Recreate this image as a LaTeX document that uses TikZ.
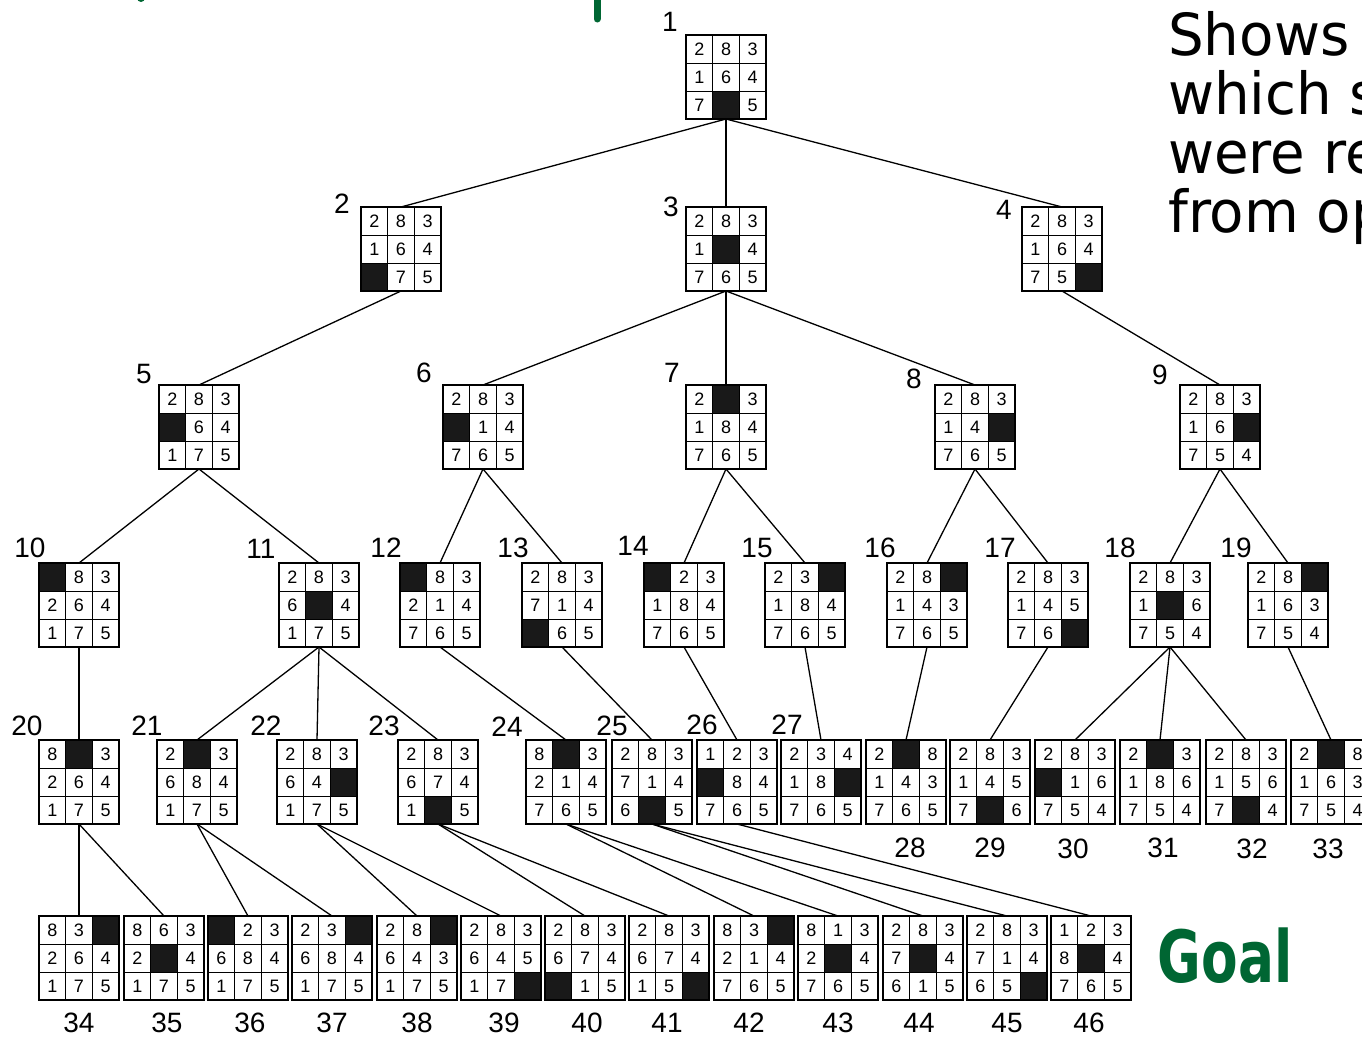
\documentclass[tikz,border=0pt]{standalone}
\usepackage{fontspec}
\setmainfont{Liberation Sans}
\newfontfamily\notefont{DejaVu Sans}
\definecolor{goalgreen}{RGB}{0,102,51}
\tikzset{
  board/.style={draw,line width=1.5pt,minimum width=80pt,minimum height=84pt,inner sep=0pt,outer sep=0pt},
  tile/.style={inner sep=0pt,font=\fontsize{18}{18}\selectfont},
  tag/.style={inner sep=0pt,font=\fontsize{28}{28}\selectfont},
  edge/.style={line width=1.3pt},
  note/.style={inner sep=0pt,anchor=base west,xscale=.97,font=\notefont\fontsize{58}{58}\selectfont},
  goal/.style={inner sep=0pt,xscale=.74,text=goalgreen,font=\notefont\bfseries\fontsize{72}{72}\selectfont}
}
% name, left, top, cells row by row (0 = blank)
\newcommand{\puzzle}[4]{%
  \foreach \v [count=\i from 0] in {#4}{%
    \pgfmathtruncatemacro\cellc{mod(\i,3)}%
    \pgfmathtruncatemacro\cellr{div(\i,3)}%
    \ifnum\v=0 \fill[black!90] (#2+\cellc*80/3,#3+\cellr*28) rectangle ++(80/3,28);
    \else \node[tile] at (#2+\cellc*80/3+40/3,#3+\cellr*28+14) {\v};\fi}
  \draw[line width=1pt] (#2+80/3,#3) -- ++(0,84) (#2+160/3,#3) -- ++(0,84)
    (#2,#3+28) -- ++(80,0) (#2,#3+56) -- ++(80,0);
  \node[board] (#1) at (#2+40,#3+42) {};}
\begin{document}
\begin{tikzpicture}[x=1pt,y=-1pt]
\useasboundingbox (0,0) rectangle (1362,1036);
\clip (0,0) rectangle (1362,1036);
\puzzle{b1}{686}{35}{2,8,3,1,6,4,7,0,5}
\puzzle{b2}{361}{207}{2,8,3,1,6,4,0,7,5}
\puzzle{b3}{686}{207}{2,8,3,1,0,4,7,6,5}
\puzzle{b4}{1022}{207}{2,8,3,1,6,4,7,5,0}
\puzzle{b5}{159}{385}{2,8,3,0,6,4,1,7,5}
\puzzle{b6}{443}{385}{2,8,3,0,1,4,7,6,5}
\puzzle{b7}{686}{385}{2,0,3,1,8,4,7,6,5}
\puzzle{b8}{935}{385}{2,8,3,1,4,0,7,6,5}
\puzzle{b9}{1180}{385}{2,8,3,1,6,0,7,5,4}
\puzzle{b10}{39}{563}{0,8,3,2,6,4,1,7,5}
\puzzle{b11}{279}{563}{2,8,3,6,0,4,1,7,5}
\puzzle{b12}{400}{563}{0,8,3,2,1,4,7,6,5}
\puzzle{b13}{522}{563}{2,8,3,7,1,4,0,6,5}
\puzzle{b14}{644}{563}{0,2,3,1,8,4,7,6,5}
\puzzle{b15}{765}{563}{2,3,0,1,8,4,7,6,5}
\puzzle{b16}{887}{563}{2,8,0,1,4,3,7,6,5}
\puzzle{b17}{1008}{563}{2,8,3,1,4,5,7,6,0}
\puzzle{b18}{1130}{563}{2,8,3,1,0,6,7,5,4}
\puzzle{b19}{1248}{563}{2,8,0,1,6,3,7,5,4}
\puzzle{b20}{39}{740}{8,0,3,2,6,4,1,7,5}
\puzzle{b21}{157}{740}{2,0,3,6,8,4,1,7,5}
\puzzle{b22}{277}{740}{2,8,3,6,4,0,1,7,5}
\puzzle{b23}{398}{740}{2,8,3,6,7,4,1,0,5}
\puzzle{b24}{526}{740}{8,0,3,2,1,4,7,6,5}
\puzzle{b25}{612}{740}{2,8,3,7,1,4,6,0,5}
\puzzle{b26}{697}{740}{1,2,3,0,8,4,7,6,5}
\puzzle{b27}{781}{740}{2,3,4,1,8,0,7,6,5}
\puzzle{b28}{866}{740}{2,0,8,1,4,3,7,6,5}
\puzzle{b29}{950}{740}{2,8,3,1,4,5,7,0,6}
\puzzle{b30}{1035}{740}{2,8,3,0,1,6,7,5,4}
\puzzle{b31}{1120}{740}{2,0,3,1,8,6,7,5,4}
\puzzle{b32}{1206}{740}{2,8,3,1,5,6,7,0,4}
\puzzle{b33}{1291}{740}{2,0,8,1,6,3,7,5,4}
\puzzle{b34}{39}{916}{8,3,0,2,6,4,1,7,5}
\puzzle{b35}{124}{916}{8,6,3,2,0,4,1,7,5}
\puzzle{b36}{208}{916}{0,2,3,6,8,4,1,7,5}
\puzzle{b37}{292}{916}{2,3,0,6,8,4,1,7,5}
\puzzle{b38}{377}{916}{2,8,0,6,4,3,1,7,5}
\puzzle{b39}{461}{916}{2,8,3,6,4,5,1,7,0}
\puzzle{b40}{545}{916}{2,8,3,6,7,4,0,1,5}
\puzzle{b41}{629}{916}{2,8,3,6,7,4,1,5,0}
\puzzle{b42}{714}{916}{8,3,0,2,1,4,7,6,5}
\puzzle{b43}{798}{916}{8,1,3,2,0,4,7,6,5}
\puzzle{b44}{883}{916}{2,8,3,7,0,4,6,1,5}
\puzzle{b45}{967}{916}{2,8,3,7,1,4,6,5,0}
\puzzle{b46}{1051}{916}{1,2,3,8,0,4,7,6,5}
\foreach \p/\c in {1/2,1/3,1/4,2/5,3/6,3/7,3/8,4/9,5/10,5/11,6/12,6/13,7/14,7/15,8/16,8/17,9/18,9/19,
  10/20,11/21,11/22,11/23,12/24,13/25,14/26,15/27,16/28,17/29,18/30,18/31,18/32,19/33,
  20/34,20/35,21/36,21/37,22/38,22/39,23/40,23/41,24/42,24/43,25/44,25/45,26/46}
  \draw[edge] (b\p.south) -- (b\c.north);
\foreach \n/\x/\y in {1/670/22,2/342/204,3/671/207,4/1004/210,5/144/374,6/424/373,7/672/373,8/914/379,9/1160/375,
  10/30/548,11/261/549,12/386/548,13/513/548,14/633/546,15/757/548,16/880/548,17/1000/548,18/1120/548,19/1236/548,
  20/27/726,21/147/726,22/266/726,23/384/726,24/507/727,25/612/726,26/702/725,27/787/725,
  28/910/848,29/990/848,30/1073/849,31/1163/848,32/1252/849,33/1328/849,
  34/79/1023,35/167/1023,36/250/1023,37/332/1023,38/417/1023,39/504/1023,40/587/1023,
  41/667/1023,42/749/1023,43/838/1023,44/919/1023,45/1007/1023,46/1089/1023}
  \node[tag] (lab\n) at (\x,\y) {\n};
\foreach \t [count=\k] in {Shows order in,which states,were removed,from open}
  \node[note] (note\k) at (1168,55+59*\k-59) {\t};
\node[goal] (goal) at (1225,956) {Goal};
\draw[goalgreen,line width=7pt,line cap=round] (597,-6) -- (597,19);
\fill[goalgreen] (141,-2) circle (4);
\end{tikzpicture}
\end{document}
